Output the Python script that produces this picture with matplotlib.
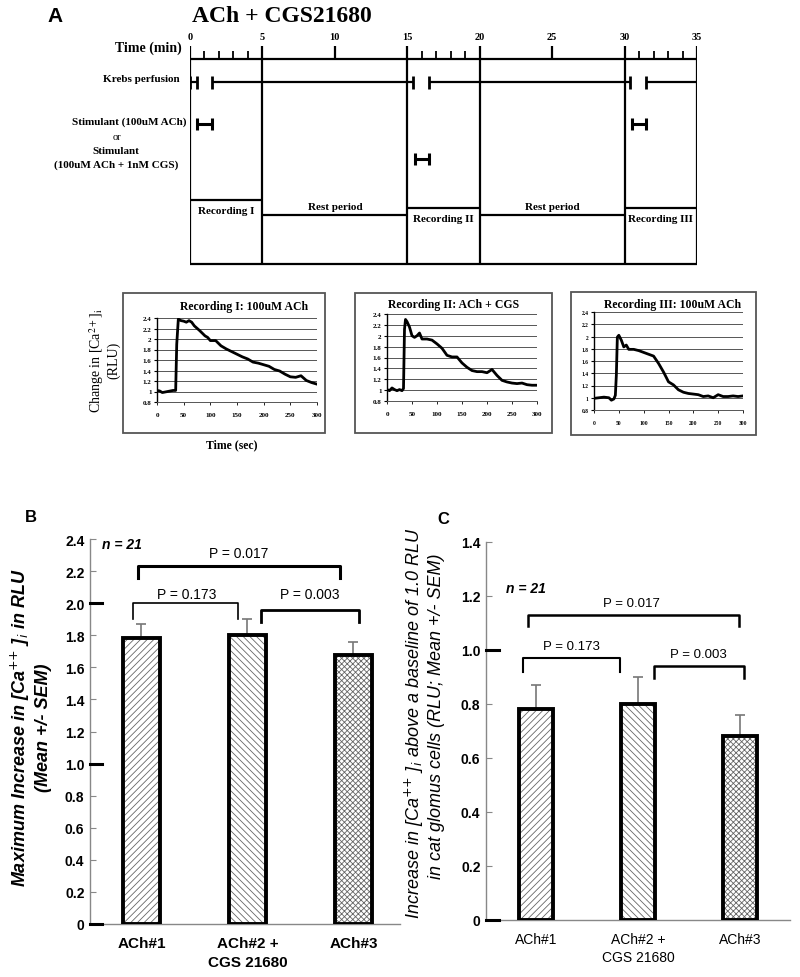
import matplotlib
matplotlib.use("Agg")
import matplotlib.pyplot as plt
import numpy as np
from matplotlib.patches import Rectangle

# ---- panel A: perfusion protocol (minutes)
time_ticks = [0, 5, 10, 15, 20, 25, 30, 35]
minor_ticks = [1, 2, 3, 4, 16, 17, 18, 19, 31, 32, 33, 34]
phase_edges = [0, 5, 15, 20, 30, 35]
phase_labels = ["Recording I", "Rest period", "Recording II", "Rest period", "Recording III"]
krebs_on = [(0, 0.45), (1.5, 15.4), (16.5, 30.4), (31.5, 35)]
stim_ach = [(0.5, 1.5), (30.5, 31.5)]
stim_cgs = [(15.5, 16.5)]

# ---- panel A insets: example recordings (time in s, [Ca2+]i in RLU)
rec_titles = ["Recording I: 100uM ACh", "Recording II: ACh + CGS", "Recording III: 100uM ACh"]
rec1_t = [0, 5, 10, 20, 30, 35, 37, 40, 45, 50, 55, 60, 65, 70, 80, 90, 95, 100, 110, 120,
          130, 140, 150, 160, 170, 180, 190, 200, 210, 220, 230, 240, 250, 260, 270, 280, 290, 300]
rec1_v = [1.02, 1.01, 0.98, 1.0, 1.02, 1.02, 1.9, 2.38, 2.35, 2.34, 2.32, 2.35, 2.32, 2.25, 2.16,
          2.06, 2.03, 1.97, 1.97, 1.87, 1.81, 1.76, 1.71, 1.66, 1.62, 1.56, 1.54, 1.51, 1.48,
          1.42, 1.39, 1.33, 1.28, 1.27, 1.3, 1.21, 1.17, 1.14]
rec2_t = [0, 5, 10, 15, 20, 25, 30, 33, 35, 37, 40, 45, 50, 55, 60, 65, 70, 80, 90, 100,
          110, 120, 130, 140, 150, 160, 170, 180, 190, 200, 210, 220, 230, 240, 250, 260, 270, 280, 290, 300]
rec2_v = [1.01, 0.99, 1.04, 1.01, 0.99, 1.01, 0.99, 1.03, 2.12, 2.3, 2.26, 2.16, 2.0, 1.97, 2.0,
          2.05, 1.94, 1.94, 1.92, 1.85, 1.77, 1.64, 1.61, 1.61, 1.5, 1.42, 1.36, 1.34, 1.34,
          1.32, 1.38, 1.27, 1.18, 1.15, 1.13, 1.12, 1.13, 1.1, 1.09, 1.09]
rec3_t = [0, 10, 20, 30, 35, 40, 43, 45, 47, 50, 55, 60, 65, 70, 80, 90, 100, 110, 120, 130,
          140, 150, 160, 170, 180, 190, 200, 210, 220, 230, 240, 250, 260, 270, 280, 290, 300]
rec3_v = [0.99, 1.0, 1.01, 1.0, 0.96, 0.98, 1.04, 1.37, 1.99, 2.02, 1.94, 1.83, 1.86, 1.79, 1.79,
          1.77, 1.74, 1.71, 1.68, 1.56, 1.42, 1.26, 1.21, 1.13, 1.09, 1.07, 1.06, 1.05, 1.02,
          1.03, 1.0, 1.05, 1.02, 1.02, 1.03, 1.02, 1.03]
rec_yticks = [0.8, 1.0, 1.2, 1.4, 1.6, 1.8, 2.0, 2.2, 2.4]
rec_xticks = [0, 50, 100, 150, 200, 250, 300]

# ---- panels B and C
groups = ["ACh#1", "ACh#2 +\nCGS 21680", "ACh#3"]
peak_b = [1.78, 1.80, 1.68]
rise_c = [0.78, 0.80, 0.68]
sem = [0.09, 0.10, 0.08]
p_labels = ["P = 0.017", "P = 0.173", "P = 0.003"]
n_cells = 21

W, H = 800, 978
SERIF = "Liberation Serif"
SANS = "Liberation Sans"
plt.rcParams["font.family"] = [SANS, "DejaVu Sans"]
plt.rcParams["hatch.linewidth"] = 0.6


def rect(x0, y0, x1, y1):
    return [x0 / W, 1 - y1 / H, (x1 - x0) / W, (y1 - y0) / H]


fig = plt.figure(figsize=(W / 100, H / 100), dpi=100)


def ftext(x, y, s, **kw):
    fig.text(x / W, 1 - y / H, s, **kw)


# ---------------- panel A timeline ----------------
ax = fig.add_axes(rect(190, 0, 697, H))
ax.set_xlim(0, 35)
ax.set_ylim(H, 0)
ax.axis("off")
lw = 1.6
ax.hlines(60, 0, 35, color="k", lw=lw)
for t in time_ticks:
    bottom = 265 if t in phase_edges else 60
    ax.vlines(t, 47, bottom, color="k", lw=lw)
    ax.text(t, 37, str(t), ha="center", va="center", fontsize=7.5,
            family=SERIF, weight="bold")
ax.vlines(minor_ticks, 52, 60, color="k", lw=1.3)
for a, b in krebs_on:
    ax.hlines(83, a, b, color="k", lw=lw)
    ax.vlines([a, b], 77, 90, color="k", lw=2.0)
for segs, y in [(stim_ach, 125), (stim_cgs, 160)]:
    for a, b in segs:
        ax.hlines(y, a, b, color="k", lw=2.2)
        ax.vlines([a, b], y - 6, y + 6, color="k", lw=2.2)
line_y = [201, 216, 209, 216, 209]
label_dy = [11, -9, 10, -9, 10]
for i, lab in enumerate(phase_labels):
    a, b = phase_edges[i], phase_edges[i + 1]
    ax.hlines(line_y[i], a, b, color="k", lw=lw)
    ax.text((a + b) / 2, line_y[i] + label_dy[i], lab, ha="center", va="center",
            fontsize=8, family=SERIF, weight="bold")
ax.hlines(265, 0, 35, color="k", lw=lw)

ftext(47, 17, "A", fontsize=15, weight="bold", va="center", ha="left")
ftext(192, 16, "ACh + CGS21680", fontsize=17, family=SERIF, weight="bold", va="center", ha="left")
ftext(182, 48, "Time (min)", fontsize=10, family=SERIF, weight="bold", va="center", ha="right")
ftext(180, 80, "Krebs perfusion", fontsize=8, family=SERIF, weight="bold", va="center", ha="right")
ftext(186, 122, "Stimulant (100uM ACh)", fontsize=8, family=SERIF, weight="bold", va="center", ha="right")
ftext(117, 138, "or", fontsize=7.5, family=SERIF, va="center", ha="center")
ftext(116, 151, "Stimulant", fontsize=8, family=SERIF, weight="bold", va="center", ha="center")
ftext(116, 165, "(100uM ACh + 1nM CGS)", fontsize=8, family=SERIF, weight="bold", va="center", ha="center")

# ---------------- panel A insets ----------------
inset_box = [(123, 294, 325, 434), (355, 294, 552, 434), (571, 293, 756, 436)]
inset_ax = [(157, 319, 317, 403), (387, 315, 537, 402), (594, 313, 743, 411)]
title_xy = [(244, 307), (454, 305), (673, 305)]
tick_fs = [5, 5, 4]
traces = [(rec1_t, rec1_v), (rec2_t, rec2_v), (rec3_t, rec3_v)]
for i, (t, v) in enumerate(traces):
    bx = inset_box[i]
    fig.patches.append(Rectangle((bx[0] / W, 1 - bx[3] / H), (bx[2] - bx[0]) / W,
                                 (bx[3] - bx[1]) / H, transform=fig.transFigure,
                                 fill=False, edgecolor="#555555", lw=1.3))
    ia = fig.add_axes(rect(*inset_ax[i]))
    ia.plot(t, v, color="black", lw=2.0, zorder=3)
    ia.set_xlim(0, 300)
    ia.set_ylim(0.8, 2.4)
    ia.set_yticks(rec_yticks)
    ia.set_yticklabels([f"{y:g}" for y in rec_yticks])
    ia.set_xticks(rec_xticks)
    ia.grid(axis="y", color="#555555", lw=0.7)
    for s in ["top", "right"]:
        ia.spines[s].set_visible(False)
    ia.spines["left"].set_linewidth(1.0)
    ia.spines["bottom"].set_color("#555555")
    ia.spines["bottom"].set_linewidth(0.7)
    ia.tick_params(axis="y", length=2, width=0.8, pad=2, labelsize=tick_fs[i])
    ia.tick_params(axis="x", length=2, width=0.6, pad=5, labelsize=tick_fs[i])
    for lab in ia.get_xticklabels() + ia.get_yticklabels():
        lab.set_family(SERIF)
        lab.set_weight("bold")
    ftext(title_xy[i][0], title_xy[i][1], rec_titles[i], fontsize=8.5, family=SERIF,
          weight="bold", ha="center", va="center")

ftext(97, 361, r"Change in [Ca$^{2+}$]$_{\rm i}$", fontsize=10, family=SERIF, rotation=90,
      ha="center", va="center", math_fontfamily="stix")
ftext(114, 360, "(RLU)", fontsize=10, family=SERIF, rotation=90, ha="center", va="center")
ftext(232, 445, "Time (sec)", fontsize=8.5, family=SERIF, weight="bold", ha="center", va="center")

# ---------------- panels B and C ----------------
hatches = ["/////", "\\\\\\\\\\", "xxxxxx"]


def bar_panel(ax, vals, ymax, step, width, long_ticks, tick_frac, xfs, xweight, xpad):
    x = np.arange(len(groups))
    bars = ax.bar(x, vals, width, color="white", edgecolor="#666666", linewidth=0, zorder=2)
    for b, h in zip(bars, hatches):
        b.set_hatch(h)
    ax.bar(x, vals, width, fill=False, edgecolor="black", linewidth=2.8, zorder=3,
           yerr=[np.zeros(len(vals)), sem],
           error_kw=dict(ecolor="#777777", elinewidth=1.2, capsize=3.5, capthick=1.2, zorder=1))
    ax.set_ylim(0, ymax)
    ticks = np.round(np.arange(0, ymax + 1e-9, step), 1)
    ax.set_yticks(ticks)
    ax.set_yticklabels(["0" if t == 0 else f"{t:.1f}" for t in ticks])
    ax.set_xticks(x)
    ax.set_xticklabels(groups, fontsize=xfs, weight=xweight, linespacing=1.4)
    for s in ["top", "right"]:
        ax.spines[s].set_visible(False)
    for s in ["left", "bottom"]:
        ax.spines[s].set_color("#888888")
        ax.spines[s].set_linewidth(1.0)
    ax.tick_params(axis="y", direction="in", length=4, color="#888888", labelsize=10, pad=4)
    ax.tick_params(axis="x", length=0, pad=xpad)
    for lab in ax.get_yticklabels():
        lab.set_weight("bold")
    for v in long_ticks:
        ax.plot([0, tick_frac], [v, v], transform=ax.get_yaxis_transform(), color="black",
                lw=2.2, clip_on=False, zorder=4)


def bracket(ax, x0, x1, y, drop, lw, text, tx, ty, fs):
    ax.plot([x0, x0, x1, x1], [y - drop, y, y, y - drop], color="black", lw=lw, clip_on=False)
    ax.text(tx, ty, text, ha="center", va="center", fontsize=fs)


axb = fig.add_axes(rect(90, 540, 400, 925))
axb.set_xlim(-0.486, 2.44)
bar_panel(axb, peak_b, 2.4, 0.2, 0.35, [0, 1.0, 2.0], 0.04, 11, "bold", 9)
b_layout = [(-0.03, 1.87, 2.23, 0.07, 2.2, 0.92, 2.31),
            (-0.08, 0.91, 2.00, 0.10, 1.2, 0.43, 2.06),
            (1.13, 2.05, 1.96, 0.08, 2.0, 1.59, 2.06)]
for lab, (x0, x1, y, d, l, tx, ty) in zip(p_labels, b_layout):
    bracket(axb, x0, x1, y, d, l, lab, tx, ty, 10)
axb.text(-0.37, 2.37, f"n = {n_cells}", fontsize=10, style="italic", weight="bold",
         ha="left", va="center")
ftext(25, 518, "B", fontsize=12, weight="bold", ha="left", va="center")
ftext(20, 728, r"Maximum Increase in [Ca$^{{+}{+}}$ ]$_i$ in RLU", fontsize=13, style="italic",
      weight="bold", rotation=90, ha="center", va="center")
ftext(43, 728, "(Mean +/- SEM)", fontsize=13, style="italic", weight="bold", rotation=90,
      ha="center", va="center")

axc = fig.add_axes(rect(486, 543, 790, 921))
axc.set_xlim(-0.49, 2.49)
bar_panel(axc, rise_c, 1.4, 0.2, 0.33, [0, 1.0], 0.043, 10, "normal", 8.5)
c_layout = [(-0.08, 1.99, 1.13, 0.04, 1.8, 0.94, 1.175),
            (-0.13, 0.82, 0.97, 0.05, 1.5, 0.35, 1.015),
            (1.16, 2.04, 0.94, 0.045, 1.8, 1.59, 0.985)]
for lab, (x0, x1, y, d, l, tx, ty) in zip(p_labels, c_layout):
    bracket(axc, x0, x1, y, d, l, lab, tx, ty, 9.5)
axc.text(-0.29, 1.23, f"n = {n_cells}", fontsize=10, style="italic", weight="bold",
         ha="left", va="center")
ftext(437, 519, "C", fontsize=12, weight="bold", ha="left", va="center")
ftext(414, 723, r"Increase in [Ca$^{{+}{+}}$ ]$_i$ above a baseline of 1.0 RLU", fontsize=13,
      style="italic", rotation=90, ha="center", va="center")
ftext(436, 716, "in cat glomus cells (RLU; Mean +/- SEM)", fontsize=13, style="italic",
      rotation=90, ha="center", va="center")

fig.savefig("out.png", dpi=100)
